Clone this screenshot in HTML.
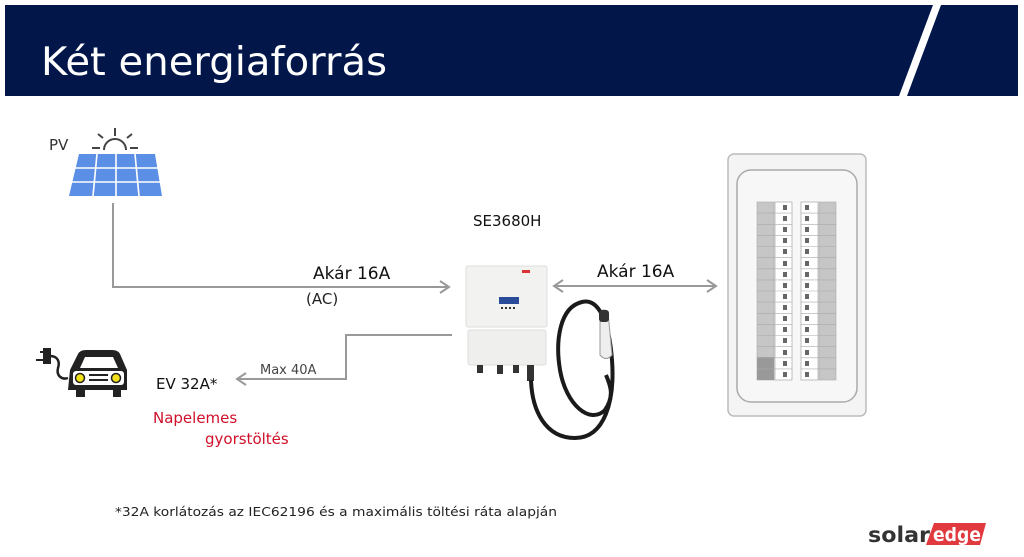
<!DOCTYPE html>
<html><head><meta charset="utf-8"><style>
html,body{margin:0;padding:0;background:#fff;}
svg{display:block;}
text{font-family:"DejaVu Sans","Liberation Sans",sans-serif;}
</style></head><body>
<svg width="1024" height="557" viewBox="0 0 1024 557" xmlns="http://www.w3.org/2000/svg">
<rect x="0" y="0" width="1024" height="557" fill="#fff"/>
<rect x="5" y="5" width="1013" height="91" fill="#02164a"/>
<polygon points="933,5 941,5 907,96 899,96" fill="#fff"/>
<text x="41" y="75" font-size="39" fill="#fff" textLength="346" lengthAdjust="spacingAndGlyphs">Két energiaforrás</text>

<text x="49" y="150" font-size="15" fill="#333">PV</text>
<g stroke="#444" stroke-width="2" fill="none">
<line x1="115" y1="128" x2="115" y2="136"/>
<line x1="98" y1="134" x2="103" y2="138"/>
<line x1="132" y1="134" x2="127" y2="138"/>
<line x1="92" y1="148" x2="100" y2="148"/>
<line x1="130" y1="148" x2="138" y2="148"/>
<path d="M104,150 A11,11 0 0 1 126,150"/>
</g>
<polygon points="79,154 155,154 162,196 69,196" fill="#5b8fe6"/>
<g stroke="#fff" stroke-width="1.6">
<line x1="74" y1="168" x2="158" y2="168"/><line x1="72" y1="182" x2="160" y2="182"/>
<line x1="97" y1="154" x2="93" y2="196"/><line x1="116" y1="154" x2="116" y2="196"/><line x1="135" y1="154" x2="139" y2="196"/>
</g>

<g stroke="#999" stroke-width="2" fill="none">
<polyline points="113,203 113,287 447,287"/>
<polyline points="440,281 449,287 440,293"/>
<line x1="555" y1="286" x2="715" y2="286"/>
<polyline points="563,280 554,286 563,292"/>
<polyline points="707,280 716,286 707,292"/>
<polyline points="452,335 346,335 346,379 238,379"/>
<polyline points="246,373 237,379 246,385"/>
</g>
<text x="313" y="279" font-size="17" fill="#111">Akár 16A</text>
<text x="306" y="304" font-size="15" fill="#222">(AC)</text>
<text x="597" y="277" font-size="17" fill="#111">Akár 16A</text>
<text x="260" y="374" font-size="13" fill="#444">Max 40A</text>
<text x="473" y="226" font-size="15" fill="#111">SE3680H</text>
<text x="156" y="389" font-size="15" fill="#111">EV 32A*</text>
<text x="153" y="423" font-size="15" fill="#d0102a">Napelemes</text>
<text x="205" y="444" font-size="15" fill="#d0102a">gyorstöltés</text>

<g>
<path d="M36,360 L44,360 M40,352 L44,352 M44,349 L50,349 L50,363 L44,363 Z" fill="#222" stroke="#222" stroke-width="2"/>
<path d="M50,356 C58,356 60,362 58,368 C56,376 62,380 68,378" stroke="#222" stroke-width="2.5" fill="none"/>
<path d="M70,370 L78,354 Q80,350 86,350 L112,350 Q118,350 120,354 L127,370 L127,390 L121,390 L121,397 L113,397 L113,390 L85,390 L85,397 L76,397 L76,390 L68,390 Z" fill="#222"/>
<path d="M80,368 L85,357 L113,357 L118,368 Z" fill="#fff"/>
<rect x="73" y="371" width="51" height="14" rx="3" fill="#fff"/>
<circle cx="80" cy="378" r="4.5" fill="#f1e01a" stroke="#222" stroke-width="1.5"/>
<circle cx="116" cy="378" r="4.5" fill="#f1e01a" stroke="#222" stroke-width="1.5"/>
<rect x="89" y="374" width="19" height="2" fill="#222"/><rect x="89" y="379" width="19" height="2" fill="#222"/>
</g>

<rect x="466" y="266" width="81" height="61" rx="2" fill="#f2f2f0" stroke="#ddd"/>
<rect x="468" y="330" width="78" height="35" rx="2" fill="#efefed" stroke="#ddd"/>
<rect x="499" y="297" width="20" height="7" fill="#2a4a9a"/>
<g fill="#333"><rect x="501" y="307" width="2" height="2"/><rect x="505" y="307" width="2" height="2"/><rect x="509" y="307" width="2" height="2"/><rect x="513" y="307" width="2" height="2"/></g>
<rect x="522" y="270" width="8" height="3" fill="#d33"/>
<g fill="#333"><rect x="477" y="365" width="6" height="8"/><rect x="497" y="365" width="6" height="9"/><rect x="513" y="365" width="6" height="8"/><rect x="527" y="365" width="7" height="16"/></g>
<g fill="none" stroke="#1a1a1a" stroke-width="4">
<path d="M531,380 C532,410 545,438 575,438 C605,438 615,400 612,360 C609,320 598,298 582,302 C560,307 555,340 560,370 C566,405 590,425 605,410 C615,395 610,385 606,375"/>
</g>
<path d="M600,312 Q604,308 608,312 L612,355 Q606,362 600,355 Z" fill="#eee" stroke="#999"/>
<rect x="599" y="310" width="10" height="12" rx="3" fill="#333"/>

<rect x="728" y="154" width="138" height="262" rx="6" fill="#f4f4f4" stroke="#bbb" stroke-width="1.5"/>
<rect x="737" y="170" width="120" height="232" rx="14" fill="#f7f7f7" stroke="#aaa" stroke-width="1.5"/>
<rect x="757" y="202" width="17" height="178" fill="#c6c6c6" stroke="#aaa" stroke-width="0.6"/>
<rect x="819" y="202" width="17" height="178" fill="#c6c6c6" stroke="#aaa" stroke-width="0.6"/>
<rect x="757" y="357" width="17" height="23" fill="#999"/>
<rect x="775" y="202" width="17" height="178" fill="#fff" stroke="#999" stroke-width="0.6"/>
<rect x="801" y="202" width="17" height="178" fill="#fff" stroke="#999" stroke-width="0.6"/>
<g stroke="#aaa" stroke-width="0.6">
<line x1="757" y1="213.1" x2="836" y2="213.1"/><line x1="757" y1="224.3" x2="836" y2="224.3"/><line x1="757" y1="235.4" x2="836" y2="235.4"/><line x1="757" y1="246.5" x2="836" y2="246.5"/><line x1="757" y1="257.6" x2="836" y2="257.6"/><line x1="757" y1="268.8" x2="836" y2="268.8"/><line x1="757" y1="279.9" x2="836" y2="279.9"/><line x1="757" y1="291" x2="836" y2="291"/><line x1="757" y1="302.1" x2="836" y2="302.1"/><line x1="757" y1="313.3" x2="836" y2="313.3"/><line x1="757" y1="324.4" x2="836" y2="324.4"/><line x1="757" y1="335.5" x2="836" y2="335.5"/><line x1="757" y1="346.6" x2="836" y2="346.6"/><line x1="757" y1="357.8" x2="836" y2="357.8"/><line x1="757" y1="368.9" x2="836" y2="368.9"/>
</g>
<rect x="792.5" y="202" width="8" height="178" fill="#f7f7f7"/>
<g fill="#666">
<rect x="783" y="205" width="4" height="5"/><rect x="783" y="216" width="4" height="5"/><rect x="783" y="227" width="4" height="5"/><rect x="783" y="238" width="4" height="5"/><rect x="783" y="249" width="4" height="5"/><rect x="783" y="261" width="4" height="5"/><rect x="783" y="272" width="4" height="5"/><rect x="783" y="283" width="4" height="5"/><rect x="783" y="294" width="4" height="5"/><rect x="783" y="305" width="4" height="5"/><rect x="783" y="316" width="4" height="5"/><rect x="783" y="327" width="4" height="5"/><rect x="783" y="338" width="4" height="5"/><rect x="783" y="350" width="4" height="5"/><rect x="783" y="361" width="4" height="5"/><rect x="783" y="372" width="4" height="5"/>
<rect x="805" y="205" width="4" height="5"/><rect x="805" y="216" width="4" height="5"/><rect x="805" y="227" width="4" height="5"/><rect x="805" y="238" width="4" height="5"/><rect x="805" y="249" width="4" height="5"/><rect x="805" y="261" width="4" height="5"/><rect x="805" y="272" width="4" height="5"/><rect x="805" y="283" width="4" height="5"/><rect x="805" y="294" width="4" height="5"/><rect x="805" y="305" width="4" height="5"/><rect x="805" y="316" width="4" height="5"/><rect x="805" y="327" width="4" height="5"/><rect x="805" y="338" width="4" height="5"/><rect x="805" y="350" width="4" height="5"/><rect x="805" y="361" width="4" height="5"/><rect x="805" y="372" width="4" height="5"/>
</g>

<text x="115" y="516" font-size="12" fill="#222" textLength="442" lengthAdjust="spacingAndGlyphs">*32A korlátozás az IEC62196 és a maximális töltési ráta alapján</text>
<polygon points="934,523 986,523 980,545 926,545" fill="#e03a3e"/>
<text x="868" y="542" font-size="21" font-weight="bold" fill="#333" font-family="Liberation Sans, sans-serif" textLength="62" lengthAdjust="spacingAndGlyphs">solar</text>
<text x="933" y="541" font-size="19" font-weight="bold" fill="#fff" font-family="Liberation Sans, sans-serif" textLength="48" lengthAdjust="spacingAndGlyphs">edge</text>
</svg>
</body></html>
